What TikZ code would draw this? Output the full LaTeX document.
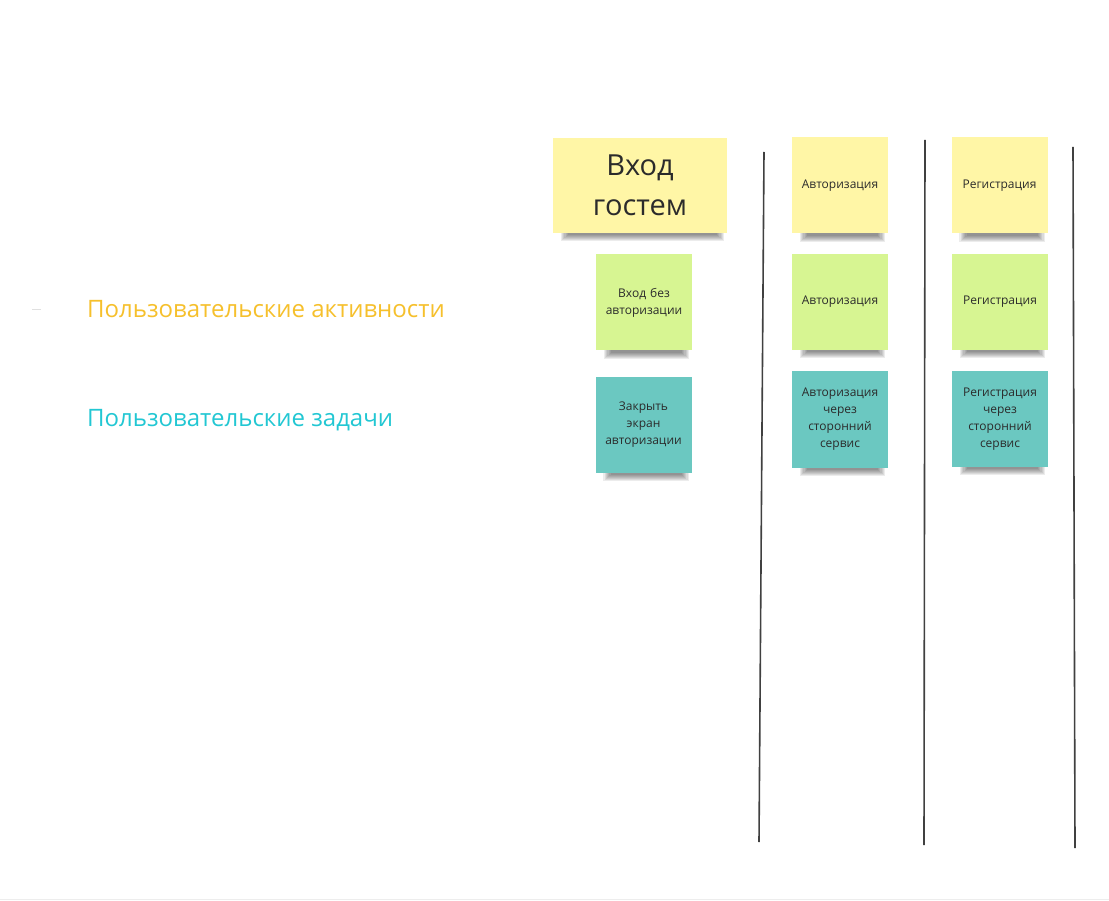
\documentclass[tikz,border=0pt]{standalone}
\usepackage{fontspec}
\setmainfont{Open Sans}
\usetikzlibrary{backgrounds}
\pgfdeclarelayer{bottom}
\pgfsetlayers{bottom,background,main}
\definecolor{noteyellow}{HTML}{FFF6A6}
\definecolor{notegreen}{HTML}{D7F592}
\definecolor{noteteal}{HTML}{6BC8C1}
\definecolor{lblorange}{HTML}{F6C02C}
\definecolor{lblcyan}{HTML}{22C7D3}
\definecolor{txtdark}{HTML}{2B2B2B}
\tikzset{
  sticky/.style={minimum width=96pt, minimum height=96pt, inner sep=2pt, align=center,
    text=txtdark, font=\fontsize{12}{17}\selectfont, text width=90pt},
  yel/.style={sticky, fill=noteyellow},
  grn/.style={sticky, fill=notegreen},
  tea/.style={sticky, fill=noteteal},
  divider/.style={draw=black!75, line width=1.6pt},
  rowlabel/.style={anchor=west, font=\fontsize{24}{28}\selectfont, inner sep=0pt},
  shadowpiece/.style={fill=black, opacity=0.075}
}
\newcommand\noteshadow[1]{%
  \foreach \k in {0,...,6} {%
    \fill[shadowpiece] ([xshift=8pt+1.2*\k pt, yshift=3pt]#1.south west) rectangle ([xshift=-3pt-1.2*\k pt, yshift=-8pt+\k pt]#1.south east);
  }%
}
\begin{document}
\begin{tikzpicture}[x=1pt,y=-1pt]
\begin{pgfonlayer}{bottom}
\fill[white] (0,0) rectangle (1109,901);
\end{pgfonlayer}
\useasboundingbox (0,0) rectangle (1109,901);
% bottom faint border
\coordinate (bl) at (0,899.5);
\coordinate (br) at (1109,899.5);
\draw[black!7, line width=1.5pt] (bl) -- (br);
% tiny dash at left
\coordinate (d1) at (32,309);
\coordinate (d2) at (41,309);
\draw[black!12, line width=0.6pt] (d1) -- (d2);

% row labels
\node[rowlabel, text=lblorange] (lact) at (87,309.5) {Пользовательские активности};
\node[rowlabel, text=lblcyan] (ltask) at (87,420.5) {Пользовательские задачи};

% column 1
\node[yel, minimum width=174pt, minimum height=95pt, text width=168pt, font=\fontsize{29}{40}\selectfont] (guest) at (640,185.5) {Вход\\гостем};
\node[grn] (noauth) at (644,302.5) {Вход без\\авторизации};
\node[tea] (close) at (643.5,425) {Закрыть\\экран\\авторизации};

% column 2
\node[yel] (auth1) at (840,185.5) {Авторизация};
\node[grn] (auth2) at (840,302) {Авторизация};
\node[tea] (auth3) at (840,419.5) {Авторизация\\через\\сторонний\\сервис};

% column 3
\node[yel] (reg1) at (999.5,185.5) {Регистрация};
\node[grn] (reg2) at (1000,302) {Регистрация};
\node[tea] (reg3) at (1000,419) {Регистрация\\через\\сторонний\\сервис};

% shadows
\begin{scope}[on background layer]
\noteshadow{guest}
\noteshadow{noauth}
\noteshadow{close}
\noteshadow{auth1}
\noteshadow{auth2}
\noteshadow{auth3}
\noteshadow{reg1}
\noteshadow{reg2}
\noteshadow{reg3}
\end{scope}

% dividers
\coordinate (v1t) at (764,152); \coordinate (v1b) at (759,842);
\coordinate (v2t) at (925,140); \coordinate (v2b) at (924,845);
\coordinate (v3t) at (1073,147); \coordinate (v3b) at (1075,848);
\draw[divider] (v1t) -- (v1b);
\draw[divider] (v2t) -- (v2b);
\draw[divider] (v3t) -- (v3b);
\end{tikzpicture}
\end{document}
